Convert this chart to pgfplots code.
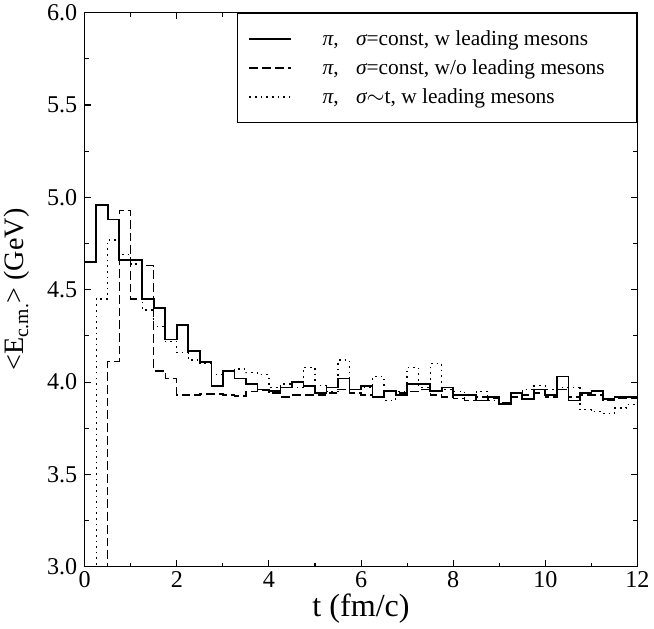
\documentclass[border=0pt]{standalone}
\usepackage{pgfplots}
\pgfplotsset{compat=1.18}
\usepackage{fontspec}
\setmainfont{Liberation Serif}
\newcommand{\lent}[1]{\rule{21pt}{0pt}{\itshape π},\rule{13pt}{0pt}#1\rule{14pt}{0pt}}
\begin{document}
\begin{tikzpicture}
\begin{axis}[
  scale only axis,
  width=413pt, height=414pt,
  xmin=0, xmax=12, ymin=3, ymax=6,
  xtick={0,2,...,12}, minor xtick={1,3,...,11},
  ytick={3.0,3.5,...,6.0}, minor y tick num=1,
  yticklabel style={xshift=-2pt, /pgf/number format/.cd,fixed,fixed zerofill,precision=1},
  /pgf/number format/assume math mode=true,
  tick align=inside, tick pos=both,
  major tick length=5pt, minor tick length=3pt,
  axis line style={line width=1pt},
  tick style={line width=0.8pt, black},
  ticklabel style={font=\fontsize{18}{20}\selectfont},
  xlabel={t (fm/c)},
  ylabel={<E\textsubscript{c.m.}> (GeV)},
  xlabel style={font=\fontsize{24}{26}\selectfont, yshift=2pt},
  ylabel style={font=\fontsize{21}{24}\selectfont, yshift=6pt},
  clip=true,
  legend cell align=left,
  legend style={at={(1,1)}, anchor=north east, draw=black, line width=0.9pt,
    font=\fontsize{16}{18}\selectfont, inner xsep=8pt, inner ysep=11pt,
    row sep=5pt, cells={anchor=west}},
  legend image code/.code={\draw[#1] (0cm,0cm) -- (31pt,0cm);},
]
\addplot[const plot mark left, black, line width=1.3pt] coordinates {
(0.00,4.65) (0.25,4.96) (0.50,4.88) (0.75,4.66) (1.00,4.66) (1.25,4.45)
(1.50,4.40) (1.75,4.23) (2.00,4.31) (2.25,4.17) (2.50,4.11) (2.75,3.98)
(3.00,4.06) (3.25,4.02) (3.50,3.99) (3.75,3.96) (4.00,3.95) (4.25,3.97)
(4.50,4.00) (4.75,3.98) (5.00,3.94) (5.25,3.97) (5.50,4.02) (5.75,3.96)
(6.00,3.98) (6.25,3.92) (6.50,3.95) (6.75,3.93) (7.00,3.99) (7.25,3.99)
(7.50,3.95) (7.75,3.97) (8.00,3.93) (8.25,3.93) (8.50,3.90) (8.75,3.92)
(9.00,3.88) (9.25,3.94) (9.50,3.91) (9.75,3.96) (10.00,3.93) (10.25,4.03)
(10.50,3.90) (10.75,3.94) (11.00,3.95) (11.25,3.91) (11.50,3.92) (11.75,3.92)
(12.00,3.92)
};
\addlegendentry{\lent{{\itshape σ}=const, w leading mesons}}
\addplot[const plot mark left, black, line width=1.0pt, dash pattern=on 6.5pt off 3pt] coordinates {
(0.00,0.00) (0.25,0.00) (0.50,4.11) (0.75,4.93) (1.00,4.45) (1.25,4.63)
(1.50,4.06) (1.75,4.02) (2.00,3.93) (2.25,3.93) (2.50,3.935) (2.75,3.935)
(3.00,3.93) (3.25,3.925) (3.50,3.95) (3.75,3.955) (4.00,3.94) (4.25,3.92)
(4.50,3.93) (4.75,3.93) (5.00,3.93) (5.25,3.94) (5.50,3.96) (5.75,3.94)
(6.00,3.93) (6.25,3.92) (6.50,3.95) (6.75,3.94) (7.00,3.95) (7.25,3.96)
(7.50,3.93) (7.75,3.92) (8.00,3.91) (8.25,3.90) (8.50,3.92) (8.75,3.91)
(9.00,3.89) (9.25,3.92) (9.50,3.93) (9.75,3.94) (10.00,3.92) (10.25,3.96)
(10.50,3.92) (10.75,3.93) (11.00,3.93) (11.25,3.90) (11.50,3.91) (11.75,3.91)
(12.00,3.91)
};
\addlegendentry{\lent{{\itshape σ}=const, w/o leading mesons}}
\addplot[const plot mark left, black, line width=1.0pt, dash pattern=on 1.2pt off 3pt] coordinates {
(0.00,0.00) (0.25,4.45) (0.50,4.77) (0.75,4.69) (1.00,4.64) (1.25,4.39)
(1.50,4.30) (1.75,4.22) (2.00,4.16) (2.25,4.12) (2.50,4.10) (2.75,4.04)
(3.00,4.06) (3.25,4.07) (3.50,4.05) (3.75,4.04) (4.00,3.97) (4.25,3.99)
(4.50,3.97) (4.75,4.08) (5.00,3.98) (5.25,3.95) (5.50,4.12) (5.75,3.96)
(6.00,3.97) (6.25,4.03) (6.50,3.90) (6.75,3.95) (7.00,4.08) (7.25,3.97)
(7.50,4.10) (7.75,3.96) (8.00,3.95) (8.25,3.90) (8.50,3.95) (8.75,3.90)
(9.00,3.88) (9.25,3.92) (9.50,3.96) (9.75,3.98) (10.00,3.96) (10.25,3.97)
(10.50,3.97) (10.75,3.85) (11.00,3.84) (11.25,3.83) (11.50,3.86) (11.75,3.88)
(12.00,3.88)
};
\addlegendentry{\lent{{\itshape σ}$\sim$t, w leading mesons}}
\end{axis}
\end{tikzpicture}
\end{document}
